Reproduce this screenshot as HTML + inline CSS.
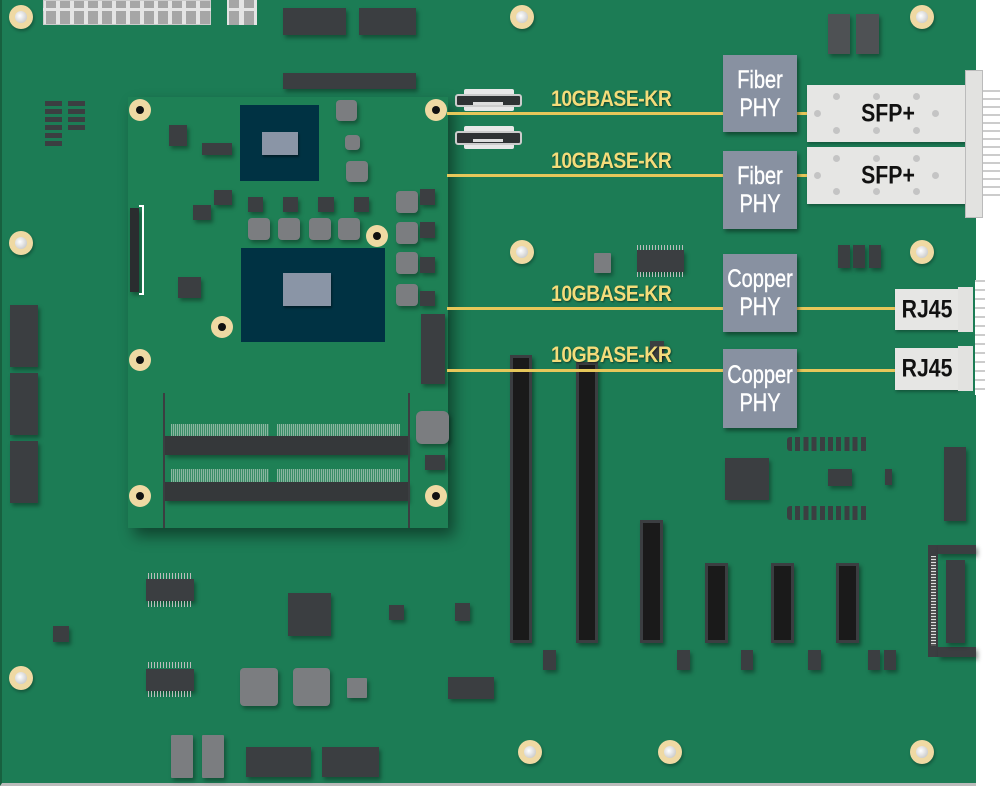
<!DOCTYPE html>
<html><head><meta charset="utf-8"><style>
*{margin:0;padding:0;box-sizing:border-box}
body{width:1000px;height:790px;background:#fff;position:relative;overflow:hidden;font-family:"Liberation Sans",sans-serif}
div{position:absolute}
.b{left:0;top:0;width:976px;height:786px;background:#1c7c55;border-left:2px solid #17603f;border-bottom:3px solid #bbb}
.c{background:#3b3e41;box-shadow:2px 3px 4px rgba(0,0,0,.35)}
.g{background:#7b7d80;border-radius:4px;box-shadow:2px 3px 4px rgba(0,0,0,.35)}
.h{width:24px;height:24px;border-radius:50%;background:#efd9a3;box-shadow:1px 2px 3px rgba(0,0,0,.3)}
.h::after{content:"";position:absolute;left:6px;top:6px;width:12px;height:12px;border-radius:50%;background:radial-gradient(circle at 40% 40%,#fff,#bbb)}
.m{width:22px;height:22px;border-radius:50%;background:#efd9a3}
.m::after{content:"";position:absolute;left:7px;top:7px;width:8px;height:8px;border-radius:50%;background:#111}
.t{height:3px;background:#e6c75a}
.l{color:#f4dc7a;font-weight:bold;font-size:22px;letter-spacing:-0.5px;transform:scaleX(.88);transform-origin:0 0;text-shadow:1px 1px 2px rgba(0,0,0,.5);white-space:nowrap}
.p{background:#8891a1;box-shadow:2px 3px 4px rgba(0,0,0,.4)}
.p span{position:absolute;left:50%;top:50%;transform:translate(-50%,-50%) scaleX(.8);color:#fff;font-size:25px;line-height:28px;text-align:center;white-space:nowrap;-webkit-text-stroke:0.4px #fff}
.s{background:#e6e6e4;box-shadow:1px 2px 3px rgba(0,0,0,.3)}
.s span{position:absolute;left:50%;top:50%;transform:translate(-50%,-50%) scaleX(.85);color:#111;font-size:25px;font-weight:bold;white-space:nowrap}
.dot{width:7px;height:7px;border-radius:50%;background:#c4c4c4}
.pc{background:#1a1a1a;border:3px solid #3b3e41;box-shadow:2px 3px 4px rgba(0,0,0,.4)}
.hs{background:#003243}
.hi{background:#8a95a6;box-shadow:1px 2px 2px rgba(0,0,0,.4)}
.gf{background:repeating-linear-gradient(90deg,#9dbfae 0 1px,#3f8f6a 1px 2px);opacity:.85}
</style></head><body>
<div class="b"></div>
<div style="left:43px;top:0;width:168px;height:25px;background:#e4e4e4;border:1px solid #ccc;background-image:repeating-linear-gradient(90deg,transparent 0 2px,#a6a6a6 2px 12px,transparent 12px 14px);"></div>
<div style="left:43px;top:8px;width:168px;height:3px;background:#e4e4e4"></div>
<div style="left:227px;top:0;width:30px;height:25px;background:#e4e4e4;background-image:repeating-linear-gradient(90deg,transparent 0 2px,#a6a6a6 2px 12px,transparent 12px 15px)"></div>
<div style="left:227px;top:8px;width:30px;height:3px;background:#e4e4e4"></div>
<div class="c" style="left:283px;top:8px;width:63px;height:27px"></div>
<div class="c" style="left:359px;top:8px;width:57px;height:27px"></div>
<div class="c" style="left:283px;top:73px;width:133px;height:16px"></div>
<div class="c" style="left:828px;top:14px;width:22px;height:40px;background:#4e5154"></div>
<div class="c" style="left:856px;top:14px;width:23px;height:40px;background:#4e5154"></div>
<div style="left:45px;top:101px;width:17px;height:47px;background:repeating-linear-gradient(180deg,#3b3e41 0 5px,transparent 5px 8px)"></div>
<div style="left:68px;top:101px;width:17px;height:30px;background:repeating-linear-gradient(180deg,#3b3e41 0 5px,transparent 5px 8px)"></div>
<div class="c" style="left:10px;top:305px;width:28px;height:62px"></div>
<div class="c" style="left:10px;top:373px;width:28px;height:62px"></div>
<div class="c" style="left:10px;top:441px;width:28px;height:62px"></div>
<div class="h" style="left:9px;top:5px"></div>
<div class="h" style="left:9px;top:231px"></div>
<div class="h" style="left:510px;top:5px"></div>
<div class="h" style="left:910px;top:5px"></div>
<div class="h" style="left:510px;top:240px"></div>
<div class="h" style="left:910px;top:240px"></div>
<div class="h" style="left:9px;top:666px"></div>
<div class="h" style="left:518px;top:740px"></div>
<div class="h" style="left:658px;top:740px"></div>
<div class="h" style="left:910px;top:740px"></div>
<div style="left:128px;top:97px;width:320px;height:431px;background:#1e8055;box-shadow:6px 8px 14px rgba(0,0,0,.45)"></div>
<div class="m" style="left:129px;top:99px"></div>
<div class="m" style="left:425px;top:99px"></div>
<div class="m" style="left:129px;top:349px"></div>
<div class="m" style="left:129px;top:485px"></div>
<div class="m" style="left:425px;top:485px"></div>
<div class="m" style="left:211px;top:316px"></div>
<div class="m" style="left:366px;top:225px"></div>
<div class="hs" style="left:240px;top:105px;width:79px;height:76px"></div>
<div class="hi" style="left:262px;top:132px;width:36px;height:23px"></div>
<div class="hs" style="left:241px;top:248px;width:144px;height:94px"></div>
<div class="hi" style="left:283px;top:273px;width:48px;height:33px"></div>
<div class="c" style="left:169px;top:125px;width:18px;height:21px"></div>
<div class="c" style="left:202px;top:143px;width:30px;height:12px"></div>
<div class="c" style="left:214px;top:190px;width:18px;height:15px"></div>
<div class="c" style="left:193px;top:205px;width:18px;height:15px"></div>
<div class="c" style="left:248px;top:197px;width:15px;height:15px"></div>
<div class="c" style="left:283px;top:197px;width:15px;height:15px"></div>
<div class="c" style="left:318px;top:197px;width:16px;height:15px"></div>
<div class="c" style="left:354px;top:197px;width:15px;height:15px"></div>
<div class="c" style="left:178px;top:277px;width:23px;height:21px"></div>
<div class="g" style="left:336px;top:100px;width:21px;height:21px"></div>
<div class="g" style="left:345px;top:135px;width:15px;height:15px"></div>
<div class="g" style="left:346px;top:161px;width:22px;height:21px"></div>
<div class="g" style="left:248px;top:218px;width:22px;height:22px"></div>
<div class="g" style="left:278px;top:218px;width:22px;height:22px"></div>
<div class="g" style="left:309px;top:218px;width:22px;height:22px"></div>
<div class="g" style="left:338px;top:218px;width:22px;height:22px"></div>
<div class="g" style="left:396px;top:191px;width:22px;height:22px"></div>
<div class="g" style="left:396px;top:222px;width:22px;height:22px"></div>
<div class="g" style="left:396px;top:252px;width:22px;height:22px"></div>
<div class="g" style="left:396px;top:284px;width:22px;height:22px"></div>
<div class="c" style="left:420px;top:189px;width:15px;height:16px"></div>
<div class="c" style="left:420px;top:222px;width:15px;height:16px"></div>
<div class="c" style="left:420px;top:257px;width:15px;height:16px"></div>
<div class="c" style="left:420px;top:291px;width:15px;height:15px"></div>
<div class="c" style="left:421px;top:314px;width:24px;height:70px"></div>
<div class="g" style="left:416px;top:411px;width:33px;height:33px;border-radius:6px"></div>
<div class="c" style="left:425px;top:455px;width:20px;height:15px"></div>
<div class="c" style="left:130px;top:208px;width:9px;height:84px;background:#2a2d2f"></div>
<div style="left:139px;top:205px;width:5px;height:90px;border:2px solid #fff;border-left:none"></div>
<div class="gf" style="left:171px;top:424px;width:98px;height:12px"></div>
<div class="gf" style="left:277px;top:424px;width:123px;height:12px"></div>
<div class="c" style="left:165px;top:436px;width:243px;height:19px;background:#35383a"></div>
<div class="gf" style="left:171px;top:469px;width:98px;height:13px"></div>
<div class="gf" style="left:277px;top:469px;width:123px;height:13px"></div>
<div class="c" style="left:165px;top:482px;width:243px;height:19px;background:#35383a"></div>
<div style="left:163px;top:393px;width:2px;height:135px;background:#3b3e41"></div>
<div style="left:408px;top:393px;width:2px;height:135px;background:#3b3e41"></div>
<div style="left:464px;top:89px;width:50px;height:22px;background:#e8e8e8;border-radius:2px"></div>
<div style="left:455px;top:94px;width:67px;height:13px;background:#2f3234;border:2px solid #ccc;border-radius:3px"></div>
<div style="left:473px;top:102px;width:30px;height:3px;background:#ddd"></div>
<div style="left:464px;top:126px;width:50px;height:23px;background:#e8e8e8;border-radius:2px"></div>
<div style="left:455px;top:131px;width:67px;height:14px;background:#2f3234;border:2px solid #ccc;border-radius:3px"></div>
<div style="left:473px;top:139px;width:30px;height:3px;background:#ddd"></div>
<div class="g" style="left:594px;top:253px;width:17px;height:20px;border-radius:1px"></div>
<div class="c" style="left:637px;top:250px;width:47px;height:22px"></div>
<div style="left:637px;top:245px;width:47px;height:5px;background:repeating-linear-gradient(90deg,#bbb 0 1px,transparent 1px 3px)"></div>
<div style="left:637px;top:272px;width:47px;height:5px;background:repeating-linear-gradient(90deg,#bbb 0 1px,transparent 1px 3px)"></div>
<div class="c" style="left:838px;top:245px;width:12px;height:23px"></div>
<div class="c" style="left:853px;top:245px;width:12px;height:23px"></div>
<div class="c" style="left:869px;top:245px;width:12px;height:23px"></div>
<div class="c" style="left:650px;top:341px;width:14px;height:18px"></div>
<div class="pc" style="left:510px;top:355px;width:22px;height:288px"></div>
<div class="pc" style="left:576px;top:362px;width:22px;height:281px"></div>
<div class="pc" style="left:640px;top:520px;width:23px;height:123px"></div>
<div class="pc" style="left:705px;top:563px;width:23px;height:80px"></div>
<div class="pc" style="left:771px;top:563px;width:23px;height:80px"></div>
<div class="pc" style="left:836px;top:563px;width:23px;height:80px"></div>
<div class="c" style="left:725px;top:458px;width:44px;height:42px"></div>
<div style="left:787px;top:437px;width:82px;height:14px;background:repeating-linear-gradient(90deg,#3b3e41 0 5px,transparent 5px 8.2px);border-radius:3px"></div>
<div style="left:787px;top:506px;width:82px;height:14px;background:repeating-linear-gradient(90deg,#3b3e41 0 5px,transparent 5px 8.2px);border-radius:3px"></div>
<div class="c" style="left:828px;top:469px;width:24px;height:17px"></div>
<div class="c" style="left:885px;top:469px;width:7px;height:16px"></div>
<div class="c" style="left:944px;top:447px;width:22px;height:74px"></div>
<div style="left:928px;top:545px;width:10px;height:112px;background:#3b3e41"></div>
<div style="left:931px;top:556px;width:5px;height:90px;background:repeating-linear-gradient(180deg,#ddd 0 1px,#555 1px 3px)"></div>
<div class="c" style="left:938px;top:545px;width:38px;height:9px"></div>
<div class="c" style="left:938px;top:647px;width:38px;height:10px"></div>
<div class="c" style="left:946px;top:560px;width:19px;height:83px"></div>
<div class="c" style="left:543px;top:650px;width:13px;height:20px"></div>
<div class="c" style="left:677px;top:650px;width:13px;height:20px"></div>
<div class="c" style="left:741px;top:650px;width:12px;height:20px"></div>
<div class="c" style="left:808px;top:650px;width:13px;height:20px"></div>
<div class="c" style="left:868px;top:650px;width:12px;height:20px"></div>
<div class="c" style="left:884px;top:650px;width:12px;height:20px"></div>
<div class="c" style="left:146px;top:579px;width:48px;height:22px"></div>
<div style="left:148px;top:573px;width:44px;height:6px;background:repeating-linear-gradient(90deg,#bbb 0 1px,transparent 1px 3px)"></div>
<div style="left:148px;top:601px;width:44px;height:6px;background:repeating-linear-gradient(90deg,#bbb 0 1px,transparent 1px 3px)"></div>
<div class="c" style="left:53px;top:626px;width:16px;height:16px"></div>
<div class="c" style="left:288px;top:593px;width:43px;height:43px"></div>
<div class="c" style="left:389px;top:605px;width:15px;height:15px"></div>
<div class="c" style="left:455px;top:603px;width:15px;height:18px"></div>
<div class="c" style="left:146px;top:669px;width:48px;height:22px"></div>
<div style="left:148px;top:662px;width:44px;height:6px;background:repeating-linear-gradient(90deg,#bbb 0 1px,transparent 1px 3px)"></div>
<div style="left:148px;top:691px;width:44px;height:6px;background:repeating-linear-gradient(90deg,#bbb 0 1px,transparent 1px 3px)"></div>
<div class="g" style="left:240px;top:668px;width:38px;height:38px"></div>
<div class="g" style="left:293px;top:668px;width:37px;height:38px"></div>
<div class="g" style="left:347px;top:678px;width:20px;height:20px;border-radius:1px"></div>
<div class="c" style="left:448px;top:677px;width:46px;height:22px"></div>
<div class="g" style="left:171px;top:735px;width:22px;height:43px;border-radius:1px"></div>
<div class="g" style="left:202px;top:735px;width:22px;height:43px;border-radius:1px"></div>
<div class="c" style="left:246px;top:747px;width:65px;height:30px"></div>
<div class="c" style="left:322px;top:747px;width:57px;height:30px"></div>
<div class="t" style="left:447px;top:112px;width:276px"></div>
<div class="t" style="left:447px;top:174px;width:276px"></div>
<div class="t" style="left:447px;top:307px;width:276px"></div>
<div class="t" style="left:447px;top:369px;width:276px"></div>
<div class="t" style="left:797px;top:112px;width:12px"></div>
<div class="t" style="left:797px;top:174px;width:12px"></div>
<div class="t" style="left:797px;top:307px;width:100px"></div>
<div class="t" style="left:797px;top:369px;width:100px"></div>
<div class="l" style="left:551px;top:86px">10GBASE-KR</div>
<div class="l" style="left:551px;top:148px">10GBASE-KR</div>
<div class="l" style="left:551px;top:281px">10GBASE-KR</div>
<div class="l" style="left:551px;top:342px">10GBASE-KR</div>
<div class="p" style="left:723px;top:55px;width:74px;height:77px"><span>Fiber<br>PHY</span></div>
<div class="p" style="left:723px;top:151px;width:74px;height:78px"><span>Fiber<br>PHY</span></div>
<div class="p" style="left:723px;top:254px;width:74px;height:78px"><span>Copper<br>PHY</span></div>
<div class="p" style="left:723px;top:349px;width:74px;height:79px"><span>Copper<br>PHY</span></div>
<div class="s" style="left:807px;top:85px;width:162px;height:57px"><span>SFP+</span></div>
<div class="s" style="left:807px;top:147px;width:162px;height:57px"><span>SFP+</span></div>
<div class="dot" style="left:833px;top:93px"></div><div class="dot" style="left:873px;top:93px"></div><div class="dot" style="left:913px;top:93px"></div>
<div class="dot" style="left:814px;top:110px"></div><div class="dot" style="left:932px;top:110px"></div>
<div class="dot" style="left:833px;top:127px"></div><div class="dot" style="left:873px;top:127px"></div><div class="dot" style="left:913px;top:127px"></div>
<div class="dot" style="left:833px;top:155px"></div><div class="dot" style="left:873px;top:155px"></div><div class="dot" style="left:913px;top:155px"></div>
<div class="dot" style="left:814px;top:172px"></div><div class="dot" style="left:932px;top:172px"></div>
<div class="dot" style="left:833px;top:188px"></div><div class="dot" style="left:873px;top:188px"></div><div class="dot" style="left:913px;top:188px"></div>
<div style="left:965px;top:70px;width:18px;height:148px;background:#e2e2e0;border:1px solid #bbb"></div>
<div style="left:983px;top:90px;width:17px;height:110px;background:repeating-linear-gradient(180deg,#ccc 0 2px,#fff 2px 8px)"></div>
<div class="s" style="left:895px;top:289px;width:63px;height:41px"><span>RJ45</span></div>
<div class="s" style="left:895px;top:348px;width:63px;height:42px"><span>RJ45</span></div>
<div style="left:958px;top:287px;width:15px;height:45px;background:#e2e2e0"></div>
<div style="left:958px;top:346px;width:15px;height:45px;background:#e2e2e0"></div>
<div style="left:975px;top:280px;width:10px;height:115px;background:repeating-linear-gradient(180deg,#ccc 0 2px,#fff 2px 9px)"></div>
</body></html>
